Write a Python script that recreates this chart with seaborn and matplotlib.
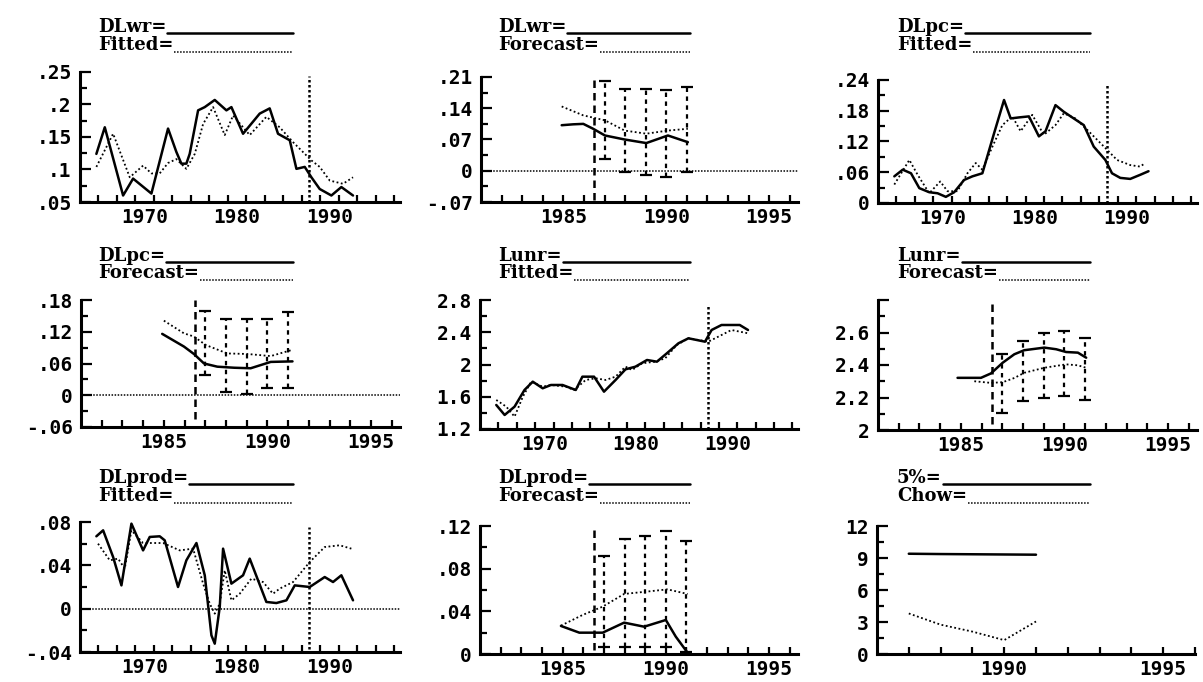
import matplotlib
matplotlib.use("Agg")
import matplotlib.pyplot as plt
from matplotlib.lines import Line2D
import seaborn as sns

sns.set_theme(style="ticks")
plt.rcParams['font.family'] = ['DejaVu Sans Mono', 'DejaVu Sans']
plt.rcParams['font.weight'] = 'bold'

# ---------------- data ----------------
# Panel 1: DLwr actual / fitted
wr_act_x = [1964.77, 1965.68, 1967.66, 1968.74, 1970.72, 1972.52, 1973.42, 1973.96, 1974.50, 1974.86,
            1975.77, 1976.49, 1977.57, 1978.83, 1979.37, 1980.63, 1982.43, 1983.51, 1984.41, 1985.68,
            1986.40, 1987.30, 1988.02, 1988.92, 1990.18, 1991.26, 1992.52]
wr_act_y = [.124, .165, .060, .086, .063, .163, .127, .109, .109, .124,
            .191, .196, .207, .191, .196, .155, .186, .194, .155, .145,
            .101, .104, .088, .070, .060, .073, .060]
wr_fit_x = [1964.77, 1966.58, 1968.38, 1969.82, 1970.72, 1971.62, 1972.52, 1973.42, 1974.50, 1975.41,
            1976.31, 1977.39, 1978.65, 1979.55, 1981.35, 1983.15, 1984.59, 1986.04, 1988.02, 1988.92,
            1990.00, 1991.44, 1992.52]
wr_fit_y = [.104, .155, .088, .106, .094, .094, .110, .116, .101, .124,
            .170, .196, .153, .183, .153, .181, .165, .142, .114, .104,
            .083, .078, .088]

# Panel 2: DLwr actual / forecast with error bands
wr_fc_act_x = [1984.92, 1985.48, 1985.97, 1986.45, 1987.02, 1987.98, 1989.03, 1990.08, 1991.05]
wr_fc_act_y = [.102, .104, .105, .094, .079, .070, .062, .079, .064]
wr_fc_x = [1984.92, 1985.97, 1986.45, 1987.02, 1987.98, 1989.03, 1990.08, 1991.05]
wr_fc_y = [.144, .124, .119, .113, .090, .083, .090, .094]
bar_years = [1987, 1988, 1989, 1990, 1991]
wr_fc_hi = [.200, .184, .184, .180, .188]
wr_fc_lo = [.027, -.003, -.010, -.014, -.003]

# Panel 3: DLpc actual / fitted
pc_act_x = [1964.77, 1965.68, 1966.58, 1967.48, 1968.56, 1969.46, 1970.36, 1971.26, 1972.34, 1973.24,
            1974.32, 1975.59, 1976.67, 1977.39, 1978.29, 1979.37, 1980.45, 1981.17, 1982.25, 1983.15,
            1984.23, 1985.32, 1986.40, 1987.66, 1988.38, 1989.28, 1990.36, 1991.44, 1992.34]
pc_act_y = [.052, .065, .058, .029, .021, .019, .012, .021, .045, .052,
            .058, .136, .201, .165, .167, .169, .130, .140, .191, .178,
            .165, .152, .110, .084, .058, .049, .047, .055, .062]
pc_fit_x = [1964.77, 1966.40, 1967.30, 1968.56, 1969.75, 1970.54, 1971.62, 1972.70, 1973.60, 1974.32,
            1975.41, 1976.49, 1977.57, 1978.47, 1979.73, 1980.99, 1982.25, 1983.15, 1984.41, 1985.68,
            1987.84, 1988.92, 1990.36, 1991.44, 1991.98]
pc_fit_y = [.036, .084, .055, .019, .042, .023, .023, .058, .078, .065,
            .110, .152, .169, .140, .172, .133, .152, .175, .165, .143,
            .104, .084, .074, .071, .078]

# Panel 4: DLpc actual / forecast
pc_fc_act_x = [1984.92, 1985.97, 1986.45, 1986.94, 1987.58, 1988.39, 1989.19, 1990.16, 1991.21]
pc_fc_act_y = [.116, .092, .078, .060, .054, .052, .051, .063, .064]
pc_fc_x = [1985.00, 1985.97, 1986.45, 1987.02, 1988.06, 1989.03, 1990.16, 1991.13]
pc_fc_y = [.141, .117, .111, .095, .079, .078, .074, .085]
pc_fc_hi = [.160, .145, .145, .145, .158]
pc_fc_lo = [.038, .006, .003, .013, .013]

# Panel 5: Lunr actual / fitted
un_act_x = [1964.77, 1965.68, 1966.76, 1967.84, 1968.74, 1969.82, 1970.72, 1971.98, 1973.42, 1974.14,
            1975.41, 1976.49, 1977.75, 1978.83, 1979.91, 1981.17, 1982.25, 1983.33, 1984.59, 1985.68,
            1987.48, 1988.20, 1989.28, 1991.26, 1992.16]
un_act_y = [1.498, 1.374, 1.477, 1.684, 1.787, 1.705, 1.746, 1.746, 1.684, 1.849,
            1.849, 1.663, 1.808, 1.940, 1.973, 2.056, 2.035, 2.139, 2.263, 2.325,
            2.283, 2.428, 2.490, 2.490, 2.428]
un_fit_x = [1964.77, 1965.86, 1966.76, 1967.66, 1968.56, 1969.82, 1970.72, 1972.34, 1973.24, 1974.50,
            1975.59, 1976.67, 1977.75, 1978.83, 1979.55, 1980.63, 1982.07, 1983.15, 1984.41, 1985.68,
            1987.84, 1988.92, 1990.36, 1992.16]
un_fit_y = [1.560, 1.477, 1.353, 1.600, 1.787, 1.725, 1.746, 1.725, 1.684, 1.808,
            1.829, 1.808, 1.849, 1.973, 1.932, 2.015, 2.035, 2.077, 2.242, 2.325,
            2.283, 2.345, 2.428, 2.387]

# Panel 6: Lunr actual / forecast
un_fc_act_x = [1984.84, 1985.97, 1986.45, 1987.02, 1987.58, 1988.06, 1989.03, 1989.60, 1990.08, 1990.65, 1991.05]
un_fc_act_y = [2.321, 2.321, 2.348, 2.414, 2.466, 2.491, 2.507, 2.497, 2.480, 2.476, 2.445]
un_fc_x = [1985.65, 1986.45, 1987.02, 1987.58, 1988.06, 1989.03, 1990.08, 1990.65, 1991.05]
un_fc_y = [2.300, 2.290, 2.294, 2.320, 2.352, 2.383, 2.404, 2.398, 2.383]
un_fc_hi = [2.466, 2.549, 2.600, 2.611, 2.569]
un_fc_lo = [2.104, 2.176, 2.197, 2.207, 2.186]

# Panel 7: DLprod actual / fitted
pr_act_x = [1964.77, 1965.50, 1966.58, 1967.48, 1968.56, 1969.82, 1970.54, 1971.62, 1972.16, 1973.60,
            1974.50, 1975.59, 1976.49, 1977.21, 1977.57, 1978.11, 1978.47, 1979.37, 1980.63, 1981.35,
            1983.15, 1984.23, 1985.32, 1986.22, 1987.84, 1989.46, 1990.36, 1991.26, 1992.52]
pr_act_y = [.0668, .0723, .0477, .0215, .0785, .0538, .0662, .0668, .0631, .0200,
            .0446, .0606, .0308, -.0246, -.0323, .0015, .0554, .0231, .0308, .0462,
            .0062, .0052, .0077, .0215, .0200, .0292, .0246, .0308, .0077]
pr_fit_x = [1964.95, 1966.22, 1967.12, 1967.84, 1968.56, 1969.82, 1971.98, 1973.78, 1975.23, 1976.31,
            1977.03, 1977.57, 1978.11, 1978.65, 1979.37, 1980.27, 1981.53, 1982.79, 1983.87, 1984.59,
            1986.04, 1987.84, 1989.46, 1991.08, 1992.34]
pr_fit_y = [.0600, .0446, .0462, .0369, .0723, .0606, .0606, .0538, .0554, .0231,
            .0046, -.0046, .0046, .0354, .0077, .0138, .0277, .0246, .0138, .0185,
            .0246, .0431, .0569, .0585, .0554]

# Panel 8: DLprod actual / forecast
pr_fc_act_x = [1984.92, 1985.81, 1986.94, 1987.98, 1988.95, 1990.00, 1990.48, 1991.05]
pr_fc_act_y = [.0263, .0200, .0200, .0294, .0256, .0319, .0163, .0013]
pr_fc_x = [1984.92, 1985.97, 1986.94, 1987.98, 1989.03, 1990.08, 1991.05]
pr_fc_y = [.0266, .0366, .0444, .0563, .0584, .0606, .0563]
pr_fc_hi = [.0919, .108, .111, .115, .106]
pr_fc_lo = [.007, .007, .007, .007, .002]

# Panel 9: Chow test and 5% critical value
chow_x = [1987, 1988, 1989, 1990, 1991]
crit_5pct = [9.40, 9.37, 9.35, 9.33, 9.31]
chow_stat = [3.80, 2.75, 2.10, 1.30, 3.05]

fit_break = 1987.8
fc_break = 1986.5

# tick labels
fit_xt = [1970, 1980, 1990]
fit_xl = ["1970", "1980", "1990"]
fit_xminor = list(range(1965, 1998, 2))
fc_xt = [1985, 1990, 1995]
fc_xl = ["1985", "1990", "1995"]
fc_xminor = list(range(1982, 1997))
chow_xt = [1990, 1995]
chow_xl = ["1990", "1995"]
chow_xminor = list(range(1987, 1997))

p1_yt = [.05, .10, .15, .20, .25]; p1_yl = [".05", ".1", ".15", ".2", ".25"]
p2_yt = [-.07, 0, .07, .14, .21]; p2_yl = ["-.07", "0", ".07", ".14", ".21"]
p3_yt = [0, .06, .12, .18, .24]; p3_yl = ["0", ".06", ".12", ".18", ".24"]
p4_yt = [-.06, 0, .06, .12, .18]; p4_yl = ["-.06", "0", ".06", ".12", ".18"]
p5_yt = [1.2, 1.6, 2.0, 2.4, 2.8]; p5_yl = ["1.2", "1.6", "2", "2.4", "2.8"]
p6_yt = [2.0, 2.2, 2.4, 2.6, 2.8]; p6_yl = ["2", "2.2", "2.4", "2.6", ""]
p7_yt = [-.04, 0, .04, .08]; p7_yl = ["-.04", "0", ".04", ".08"]
p8_yt = [0, .04, .08, .12]; p8_yl = ["0", ".04", ".08", ".12"]
p9_yt = [0, 3, 6, 9, 12]; p9_yl = ["0", "3", "6", "9", "12"]

leg_names = [("DLwr=", "Fitted="), ("DLwr=", "Forecast="), ("DLpc=", "Fitted="),
             ("DLpc=", "Forecast="), ("Lunr=", "Fitted="), ("Lunr=", "Forecast="),
             ("DLprod=", "Fitted="), ("DLprod=", "Forecast="), ("5%=", "Chow=")]

# ---------------- layout ----------------
W, H = 1203, 682
fig = plt.figure(figsize=(W / 100, H / 100), dpi=100)
fig.patch.set_facecolor("white")

boxes = [(80, 72, 400, 202), (481, 77, 798, 202), (878, 80, 1197, 203),
         (81, 300, 400, 427), (480, 300, 798, 429), (878, 300, 1197, 430),
         (80, 522, 400, 652), (480, 526, 798, 654), (877, 526, 1195, 654)]
col_start = [98, 498, 897]
col_end = [293, 690, 1090]
row_base = [(32, 50), (261, 278), (483, 501)]

SOLID = dict(color="black", lw=1.8)
DOT = dict(color="black", lw=1.3, linestyle=(0, (1, 1.4)))


def add_ax(box):
    l, t, r, b = box
    ax = fig.add_axes([l / W, 1 - b / H, (r - l) / W, (b - t) / H])
    ax.patch.set_alpha(0)
    return ax


def style(ax, xlim, xt, xl, xminor, ylim, yt, yl, xmajlen):
    ax.set_xlim(*xlim)
    ax.set_ylim(*ylim)
    for s in ["top", "right"]:
        ax.spines[s].set_visible(False)
    for s in ["left", "bottom"]:
        ax.spines[s].set_linewidth(2.2)
        ax.spines[s].set_color("black")
    ax.set_xticks(xt)
    ax.set_xticklabels(xl)
    ax.set_xticks(xminor, minor=True)
    ax.set_yticks(yt)
    ax.set_yticklabels(yl)
    ymin = [(yt[i] + yt[i + 1]) / 2 for i in range(len(yt) - 1)]
    ax.set_yticks(ymin, minor=True)
    ax.tick_params(axis="x", which="major", direction="in", length=xmajlen, width=1.6,
                   pad=4, labelsize=14, colors="black")
    ax.tick_params(axis="x", which="minor", direction="in", length=5, width=1.6, colors="black")
    ax.tick_params(axis="y", which="major", direction="in", length=8, width=1.6,
                   pad=6, labelsize=14, colors="black")
    ax.tick_params(axis="y", which="minor", direction="in", length=5, width=1.6, colors="black")
    ax.set_xlabel("")
    ax.set_ylabel("")
    ax.grid(False)


def line(ax, x, y, kw):
    sns.lineplot(x=x, y=y, ax=ax, estimator=None, sort=False, **kw)


def fitted_panel(ax, ax_, ay, fx, fy, ylim, yt, yl, zero=False, bmin=0.0, bmax=0.97):
    if zero:
        ax.axhline(0, color="black", lw=1.1, linestyle=(0, (1, 1)))
    line(ax, ax_, ay, SOLID)
    line(ax, fx, fy, DOT)
    ax.axvline(fit_break, ymin=bmin, ymax=bmax, color="black", lw=1.8, linestyle=(0, (1, 1)))
    style(ax, (1963, 1997.6), fit_xt, fit_xl, fit_xminor, ylim, yt, yl, 0)


def forecast_panel(ax, ax_, ay, fx, fy, hi, lo, ylim, yt, yl, zero=False, bmin=0.02, bmax=1.0):
    if zero:
        ax.axhline(0, color="black", lw=1.1, linestyle=(0, (1, 1)))
    ax.axvline(fc_break, ymin=bmin, ymax=bmax, color="black", lw=1.8, linestyle=(0, (3, 2)))
    ax.vlines(bar_years, lo, hi, colors="black", lw=1.6, linestyles=[(0, (2, 2))])
    ax.plot(bar_years, hi, ls="none", marker="_", ms=8, mew=1.6, color="black")
    ax.plot(bar_years, lo, ls="none", marker="_", ms=8, mew=1.6, color="black")
    line(ax, ax_, ay, SOLID)
    line(ax, fx, fy, DOT)
    style(ax, (1981, 1996.4), fc_xt, fc_xl, fc_xminor, ylim, yt, yl, 5)


axes = [add_ax(b) for b in boxes]

fitted_panel(axes[0], wr_act_x, wr_act_y, wr_fit_x, wr_fit_y, (.05, .25), p1_yt, p1_yl)
forecast_panel(axes[1], wr_fc_act_x, wr_fc_act_y, wr_fc_x, wr_fc_y, wr_fc_hi, wr_fc_lo,
               (-.07, .21), p2_yt, p2_yl, zero=True)
fitted_panel(axes[2], pc_act_x, pc_act_y, pc_fit_x, pc_fit_y, (0, .24), p3_yt, p3_yl)
forecast_panel(axes[3], pc_fc_act_x, pc_fc_act_y, pc_fc_x, pc_fc_y, pc_fc_hi, pc_fc_lo,
               (-.06, .18), p4_yt, p4_yl, zero=True, bmin=0.06)
fitted_panel(axes[4], un_act_x, un_act_y, un_fit_x, un_fit_y, (1.2, 2.8), p5_yt, p5_yl, bmax=0.96)
forecast_panel(axes[5], un_fc_act_x, un_fc_act_y, un_fc_x, un_fc_y, un_fc_hi, un_fc_lo,
               (2.0, 2.8), p6_yt, p6_yl, bmin=0.05)
fitted_panel(axes[6], pr_act_x, pr_act_y, pr_fit_x, pr_fit_y, (-.04, .08), p7_yt, p7_yl,
             zero=True, bmin=0.02, bmax=0.96)
forecast_panel(axes[7], pr_fc_act_x, pr_fc_act_y, pr_fc_x, pr_fc_y, pr_fc_hi, pr_fc_lo,
               (0, .12), p8_yt, p8_yl, bmin=0.03, bmax=0.98)

ax9 = axes[8]
line(ax9, chow_x, crit_5pct, SOLID)
line(ax9, chow_x, chow_stat, DOT)
style(ax9, (1986, 1996), chow_xt, chow_xl, chow_xminor, (0, 12), p9_yt, p9_yl, 5)

# ---------------- legends ----------------
texts = []
for i, (n1, n2) in enumerate(leg_names):
    c, r = i % 3, i // 3
    x0 = col_start[c]
    b1, b2 = row_base[r]
    t1 = fig.text(x0 / W, 1 - b1 / H, n1, fontsize=13, family="DejaVu Serif",
                  weight="bold", va="baseline", ha="left", color="black")
    t2 = fig.text(x0 / W, 1 - b2 / H, n2, fontsize=13, family="DejaVu Serif",
                  weight="bold", va="baseline", ha="left", color="black")
    texts.append((t1, col_end[c], b1 + 1, SOLID))
    texts.append((t2, col_end[c], b2 + 2, dict(color="black", lw=1.1, linestyle=(0, (1, 1)))))

fig.canvas.draw()
rend = fig.canvas.get_renderer()
for t, xe, yb, kw in texts:
    bb = t.get_window_extent(rend)
    xs = bb.x1 + 1
    fig.add_artist(Line2D([xs / W, xe / W], [1 - yb / H, 1 - yb / H],
                          transform=fig.transFigure, **kw))

fig.savefig("out.png", dpi=100)
